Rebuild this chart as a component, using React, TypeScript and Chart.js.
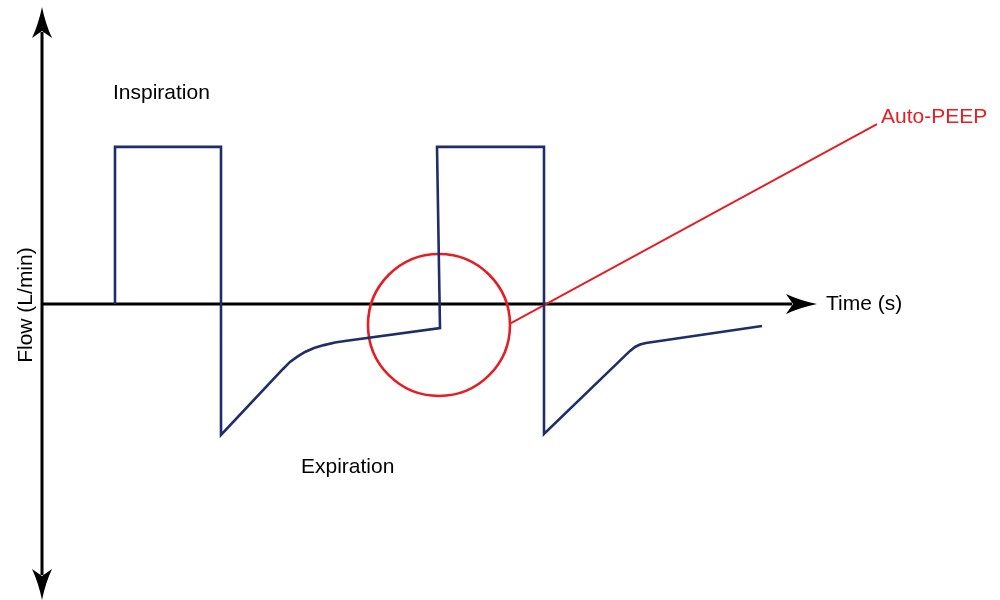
import React, { useEffect, useRef } from "react";
import { Chart, registerables } from "chart.js";

Chart.register(...registerables);

// Flow waveform (time in s, flow in L/min)
const TIME_S = [0.73, 0.73, 1.79, 1.79, 2.41, 2.48, 2.55, 2.63, 2.72, 2.82, 2.93, 3.03, 3.98, 3.95, 5.02, 5.02, 5.88, 5.93, 5.98, 6.04, 7.2];
const FLOW_LPM = [0, 60, 60, -50, -24.8, -22.1, -20.2, -18.3, -16.8, -15.7, -14.7, -14.1, -9.2, 60, 60, -49.6, -17.9, -16.4, -15.5, -14.9, -8.4];

// Auto-PEEP highlight circle centre and leader line
const CIRCLE_T = [3.97];
const CIRCLE_F = [-8.0];
const LEADER_T = [4.69, 8.35];
const LEADER_F = [-7.3, 68.7];

// Axis extents
const X_MIN = 0;
const X_MAX = 9.5;
const Y_MIN = -113;
const Y_MAX = 113;
const X_AXIS_END = 7.75;

// Text labels
const LABEL_TEXT = ["Inspiration", "Expiration", "Time (s)", "Auto-PEEP"];
const LABEL_T = [0.71, 2.59, 7.84, 8.39];
const LABEL_F = [78.3, -64.5, -2.3, 69.1];
const LABEL_COLOR = ["#000000", "#000000", "#000000", "#e31e24"];
const Y_TITLE = "Flow (L/min)";

const NAVY = "#1f2d6b";
const RED = "#e31e24";
const FONT = "21px 'Liberation Sans', Arial, Helvetica, sans-serif";

function arrow(ctx: CanvasRenderingContext2D, tx: number, ty: number, dx: number, dy: number) {
  const len = 31;
  const hw = 10;
  const notch = 7;
  const px = -dy;
  const py = dx;
  const bx = tx - dx * len;
  const by = ty - dy * len;
  ctx.beginPath();
  ctx.moveTo(tx, ty);
  ctx.quadraticCurveTo(tx - dx * len * 0.55 + px * hw * 0.35, ty - dy * len * 0.55 + py * hw * 0.35, bx + px * hw, by + py * hw);
  ctx.lineTo(tx - dx * (len - notch), ty - dy * (len - notch));
  ctx.lineTo(bx - px * hw, by - py * hw);
  ctx.quadraticCurveTo(tx - dx * len * 0.55 - px * hw * 0.35, ty - dy * len * 0.55 - py * hw * 0.35, tx, ty);
  ctx.closePath();
  ctx.fill();
}

const axesPlugin = {
  id: "arrowAxes",
  beforeDatasetsDraw(chart: any) {
    const ctx = chart.ctx as CanvasRenderingContext2D;
    const xs = chart.scales.x;
    const ys = chart.scales.y;
    const x0 = xs.getPixelForValue(0);
    const y0 = ys.getPixelForValue(0);
    const top = ys.getPixelForValue(Y_MAX) - 1;
    const bot = ys.getPixelForValue(Y_MIN);
    const right = xs.getPixelForValue(X_AXIS_END);
    ctx.save();
    ctx.strokeStyle = "#000";
    ctx.fillStyle = "#000";
    ctx.lineWidth = 3;
    ctx.beginPath();
    ctx.moveTo(x0, top + 25);
    ctx.lineTo(x0, bot - 25);
    ctx.moveTo(x0, y0);
    ctx.lineTo(right - 25, y0);
    ctx.stroke();
    arrow(ctx, x0, top, 0, -1);
    arrow(ctx, x0, bot, 0, 1);
    arrow(ctx, right, y0, 1, 0);
    ctx.restore();
  },
  afterDraw(chart: any) {
    const ctx = chart.ctx as CanvasRenderingContext2D;
    const xs = chart.scales.x;
    const ys = chart.scales.y;
    ctx.save();
    ctx.font = FONT;
    ctx.textAlign = "left";
    ctx.textBaseline = "alphabetic";
    LABEL_TEXT.forEach((t, i) => {
      ctx.fillStyle = LABEL_COLOR[i];
      ctx.fillText(t, xs.getPixelForValue(LABEL_T[i]), ys.getPixelForValue(LABEL_F[i]));
    });
    ctx.fillStyle = "#000000";
    ctx.translate(xs.getPixelForValue(0) - 10, ys.getPixelForValue(-0.4));
    ctx.rotate(-Math.PI / 2);
    ctx.textAlign = "center";
    ctx.fillText(Y_TITLE, 0, 0);
    ctx.restore();
  },
};

export default function App() {
  const ref = useRef<HTMLCanvasElement | null>(null);
  useEffect(() => {
    if (!ref.current) return;
    const chart = new Chart(ref.current, {
      type: "line",
      data: {
        datasets: [
          {
            data: TIME_S.map((t, i) => ({ x: t, y: FLOW_LPM[i] })),
            borderColor: NAVY,
            borderWidth: 2.6,
            pointRadius: 0,
            tension: 0,
            fill: false,
            borderJoinStyle: "miter",
          } as any,
          {
            data: LEADER_T.map((t, i) => ({ x: t, y: LEADER_F[i] })),
            borderColor: RED,
            borderWidth: 1.9,
            pointRadius: 0,
            fill: false,
          },
          {
            data: CIRCLE_T.map((t, i) => ({ x: t, y: CIRCLE_F[i] })),
            showLine: false,
            pointRadius: 71,
            pointBorderWidth: 2.6,
            pointBorderColor: RED,
            pointBackgroundColor: "rgba(0,0,0,0)",
            borderColor: RED,
            backgroundColor: "rgba(0,0,0,0)",
          },
        ],
      },
      options: {
        animation: false,
        responsive: false,
        devicePixelRatio: 1,
        clip: false as any,
        layout: { autoPadding: false, padding: { left: 42, right: 8, top: 8, bottom: 0 } },
        plugins: { legend: { display: false }, tooltip: { enabled: false } },
        events: [],
        scales: {
          x: { type: "linear", min: X_MIN, max: X_MAX, display: false },
          y: { type: "linear", min: Y_MIN, max: Y_MAX, display: false },
        },
      },
      plugins: [axesPlugin],
    });
    return () => chart.destroy();
  }, []);
  return (
    <div style={{ position: "fixed", left: 0, top: 0, width: 1000, height: 600, background: "#fff" }}>
      <canvas ref={ref} width={1000} height={600} style={{ width: 1000, height: 600, display: "block" }} />
    </div>
  );
}
